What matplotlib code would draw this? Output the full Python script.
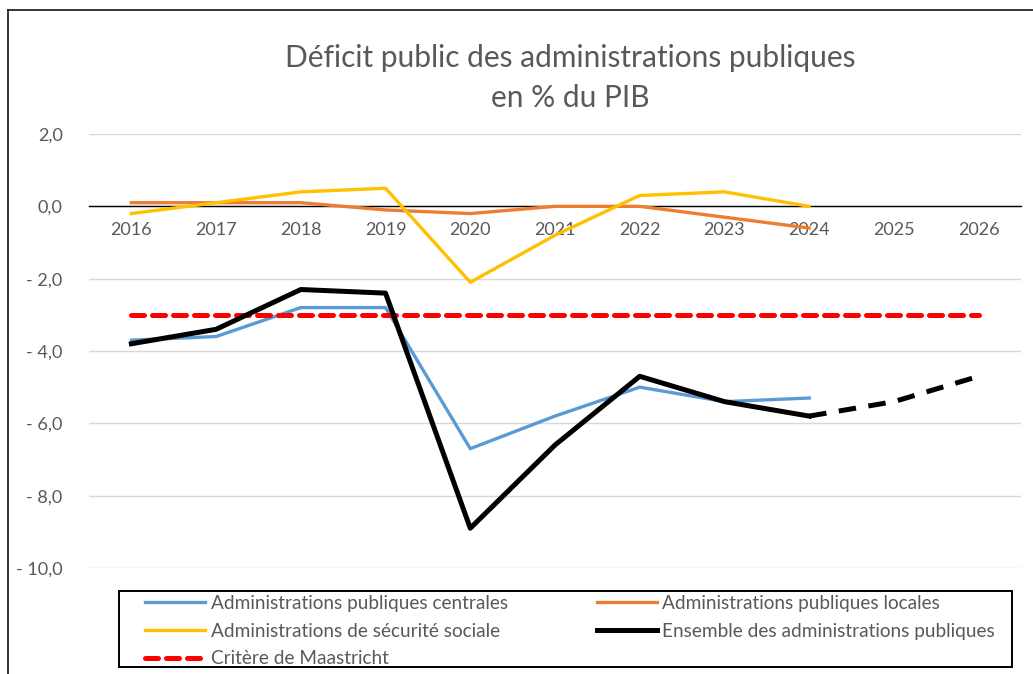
import numpy as np
import matplotlib
matplotlib.use("Agg")
import matplotlib.pyplot as plt
from matplotlib.lines import Line2D
from matplotlib.patches import Rectangle
from matplotlib.ticker import FuncFormatter

plt.rcParams['font.family'] = ['Lato', 'DejaVu Sans']

years = ['2016', '2017', '2018', '2019', '2020', '2021', '2022', '2023', '2024', '2025', '2026']
centrales = [-3.7, -3.6, -2.8, -2.8, -6.7, -5.8, -5.0, -5.4, -5.3]
locales = [0.1, 0.1, 0.1, -0.1, -0.2, 0.0, 0.0, -0.3, -0.6]
secu = [-0.2, 0.1, 0.4, 0.5, -2.1, -0.8, 0.3, 0.4, 0.0]
ensemble = [-3.8, -3.4, -2.3, -2.4, -8.9, -6.6, -4.7, -5.4, -5.8]
ensemble_prev = [-5.8, -5.4, -4.7]  # 2024 -> 2026
maastricht = [-3.0] * 11

gray = '#595959'
W, H = 1033, 674
fig = plt.figure(figsize=(W / 100, H / 100), dpi=100)
ax = fig.add_axes([89 / W, (H - 568) / H, 932 / W, 434 / H])

x = np.arange(len(years))
ax.plot(x[:9], centrales, color='#5B9BD5', lw=2.4, zorder=3, label='Administrations publiques centrales')
ax.plot(x[:9], locales, color='#ED7D31', lw=2.4, zorder=3, label='Administrations publiques locales')
ax.plot(x[:9], secu, color='#FFC000', lw=2.4, zorder=3, label='Administrations de sécurité sociale')
ax.plot(x[:9], ensemble, color='black', lw=3.6, zorder=4, label='Ensemble des administrations publiques')
ax.plot(x[8:], ensemble_prev, color='black', lw=3.6, zorder=4, dashes=(3.5, 2.5))
ax.plot(x, maastricht, color='#FF0000', lw=3.6, zorder=3, dashes=(2.6, 1.6), dash_capstyle='round',
        label='Critère de Maastricht')

ax.set_xlim(-0.5, 10.5)
ax.set_ylim(-10, 2)
ax.set_yticks(np.arange(-10, 2.1, 2))
ax.yaxis.set_major_formatter(FuncFormatter(
    lambda v, p: ('- ' if v < 0 else '') + f'{abs(v):.1f}'.replace('.', ',')))
ax.grid(axis='y', color='#D9D9D9', lw=1)
ax.set_axisbelow(True)
for s in ['top', 'right', 'left']:
    ax.spines[s].set_visible(False)
ax.spines['bottom'].set_position(('data', 0))
ax.spines['bottom'].set_color('black')
ax.spines['bottom'].set_linewidth(1)
ax.spines['bottom'].set_zorder(2.5)
ax.set_xticks(x)
ax.set_xticklabels(years)
ax.tick_params(axis='x', length=0, pad=11, labelsize=13, labelcolor=gray)
ax.tick_params(axis='y', length=0, pad=19, labelsize=13, labelcolor=gray)

fig.text(570 / W, 1 - 58 / H, 'Déficit public des administrations publiques', ha='center', va='center',
         fontsize=21.5, color=gray)
fig.text(570 / W, 1 - 98 / H, 'en % du PIB', ha='center', va='center', fontsize=21.5, color=gray)

# legend frame drawn by hand
fig.patches.append(Rectangle((119 / W, 1 - 667 / H), 893 / W, 76 / H, transform=fig.transFigure,
                             facecolor='white', edgecolor='black', lw=1.4, zorder=4))
h, l = ax.get_legend_handles_labels()
order = [0, 2, 4, 1, 3]
fig.legend([h[i] for i in order], [l[i] for i in order], ncol=2, mode='expand', frameon=False,
           loc='upper left', bbox_to_anchor=(145 / W, 1 - 667 / H, 850 / W, 72 / H),
           borderpad=0, borderaxespad=0, fontsize=13.7, labelcolor=gray, handlelength=3.15,
           handletextpad=0.3, labelspacing=0.56)

# chart border (top and left)
fig.lines.append(Line2D([8 / W, 1], [1 - 10 / H, 1 - 10 / H], transform=fig.transFigure, color='#262626', lw=1.3))
fig.lines.append(Line2D([8 / W, 8 / W], [0, 1 - 10 / H], transform=fig.transFigure, color='#262626', lw=1.3))

fig.savefig('out.png', dpi=100)
